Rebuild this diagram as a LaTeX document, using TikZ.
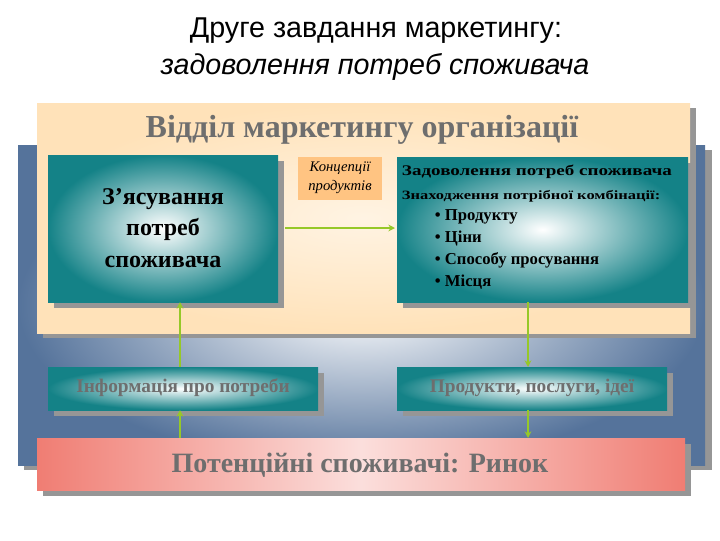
\documentclass[tikz,border=0pt]{standalone}
\usepackage{fontspec}
\usepackage{graphicx}
\setmainfont{Liberation Serif}
\newfontfamily\sansf{Liberation Sans}
\usetikzlibrary{arrows.meta}
\definecolor{tealc}{RGB}{20,130,135}
\definecolor{bluep}{RGB}{85,115,155}
\definecolor{peach}{RGB}{255,226,185}
\definecolor{pinkc}{RGB}{240,125,115}
\definecolor{arrowg}{RGB}{150,200,40}
\definecolor{shadowc}{RGB}{150,150,150}
\definecolor{graytxt}{RGB}{110,110,110}
\tikzset{
  tealbox/.style={draw=none, shading=radial, inner color=white, outer color=tealc},
  shad/.style={fill=shadowc},
  arr/.style={draw=arrowg, line width=1.2pt, -{Stealth[length=5pt,width=5pt]}},
}
\begin{document}
\begin{tikzpicture}[x=0.75pt,y=-0.75pt]
\useasboundingbox[fill=white] (0,0) rectangle (720,540);
% title
\node (t1) at (376,31) [font={\sansf\fontsize{21.5}{24}\selectfont}] {Друге завдання маркетингу:};
\node (t2) at (375,67) [font={\sansf\itshape\fontsize{21.5}{24}\selectfont}] {задоволення потреб споживача};
% blue panel
\fill[shadowc] (24,150) rectangle (712,470);
\shade[inner color=white, outer color=bluep] (18,145) rectangle (705,465);
% peach panel
\fill[shadowc] (43,108) rectangle (696,338);
\shade[inner color=white!60!peach, outer color=peach] (37,103) rectangle (690,333);
\node (hdr) at (362,130) [font={\bfseries\fontsize{24}{26}\selectfont}, text=graytxt] {Відділ маркетингу організації};
% left teal
\fill[shad] (54,161) rectangle (284,308);
\shade[tealbox] (48,155) rectangle (278,302);
\node (left) at (163,228) [align=center, font={\bfseries\fontsize{18}{23.5}\selectfont}] {З’ясування\\потреб\\споживача};
\coordinate (leftR) at (285,228);
\coordinate (leftB) at (180,302);
% concept
\fill[peach!70!orange] (298,157) rectangle (382,200);
\node (conc) at (340,178) [align=center, font={\itshape\fontsize{11}{14}\selectfont}] {Концепції\\продуктів};
% right teal
\fill[shad] (403,163) rectangle (694,308);
\shade[tealbox] (397,157) rectangle (688,302);
\node (right) at (399,162) [anchor=north west, align=left, inner sep=2pt, font={\bfseries\fontsize{11}{18}\selectfont}] {\scalebox{1.3}[1]{Задоволення потреб споживача}\\
\scalebox{1.3}[1]{\fontsize{9.5}{12}\selectfont Знаходження потрібної комбінації:}};
\node (bul) at (432,207) [anchor=north west, align=left, inner sep=2pt, font={\bfseries\fontsize{12.5}{16.5}\selectfont}] {• Продукту\\• Ціни\\• Способу просування\\• Місця};
\coordinate (rightL) at (395,228);
\coordinate (rightB) at (528,302);
% info boxes
\fill[shad] (54,373) rectangle (324,416);
\shade[tealbox] (48,367) rectangle (318,410);
\node (info) at (183,388) [font={\bfseries\fontsize{14.5}{16}\selectfont}, text=graytxt] {Інформація про потреби};
\fill[shad] (403,373) rectangle (673,416);
\shade[tealbox] (397,367) rectangle (667,410);
\node (prod) at (532,388) [font={\bfseries\fontsize{14.5}{16}\selectfont}, text=graytxt] {Продукти, послуги, ідеї};
\coordinate (infoT) at (180,367);
\coordinate (infoB) at (180,410);
\coordinate (prodT) at (528,367);
\coordinate (prodB) at (528,410);
% pink
\fill[shadowc] (43,444) rectangle (691,496);
\shade[left color=pinkc, right color=pinkc, middle color=pinkc!25] (37,438) rectangle (685,490);
\node (mkt) at (360,465) [font={\bfseries\fontsize{21}{24}\selectfont}, text=graytxt] {Потенційні споживачі: Ринок};
\coordinate (mktL) at (180,438);
\coordinate (mktR) at (528,438);
% arrows
\draw[arr] (leftR) -- (rightL);
\draw[arr] (infoT) -- (leftB);
\draw[arr] (mktL) -- (infoB);
\draw[arr] (rightB) -- (prodT);
\draw[arr] (prodB) -- (mktR);
\end{tikzpicture}
\end{document}
